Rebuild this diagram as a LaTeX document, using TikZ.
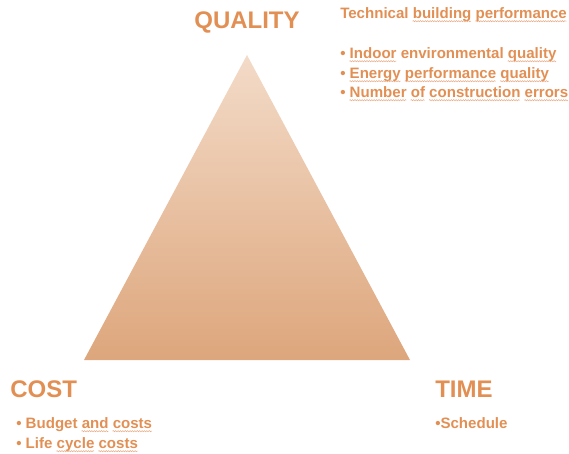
\documentclass[tikz,border=0pt]{standalone}
\usepackage{fontspec}
\setmainfont{Liberation Sans}
\usetikzlibrary{decorations.pathmorphing}
\definecolor{labelorange}{RGB}{226,143,84}
\definecolor{pyramidtop}{RGB}{243,219,200}
\definecolor{pyramidbottom}{RGB}{221,166,124}
\definecolor{squigorange}{RGB}{234,172,134}
% spell-check style wavy underline
\newsavebox{\squigbox}
\newcommand{\squig}[1]{\sbox{\squigbox}{#1}\usebox{\squigbox}\llap{\tikz[baseline=0pt]\draw[squigline] (0pt,-2.4pt) -- (\wd\squigbox,-2.4pt);}}
\tikzset{
  header/.style={text=labelorange, font=\bfseries\fontsize{18}{20}\selectfont, inner sep=0pt, anchor=base},
  item/.style={text=labelorange, font=\bfseries\fontsize{11.3}{13}\selectfont, inner sep=0pt, anchor=base west},
  squigline/.style={squigorange, line width=0.4pt, decorate, decoration={snake, amplitude=0.45pt, segment length=1.8pt}}
}

\begin{document}
\begin{tikzpicture}[x=0.75pt,y=-0.75pt]
\useasboundingbox (0,0) rectangle (569,454);

% 1. TRIANGLE
\shade[top color=pyramidtop, bottom color=pyramidbottom] (247,55) -- (410,360) -- (84,360) -- cycle;

% 2. CORNER LABELS
\node[header] (quality) at (247,28) {QUALITY};
\node[header, anchor=base west] (cost) at (10,397) {COST};
\node[header, anchor=base west] (time) at (435,397) {TIME};

% 3. QUALITY ITEMS
\node[item] (techperf) at (340,18) {Technical \squig{building} \squig{performance}};
\node[item] (indoor) at (340,58) {\textbullet\ \squig{Indoor} environmental \squig{quality}};
\node[item] (energy) at (340,78) {\textbullet\ \squig{Energy} \squig{performance} \squig{quality}};
\node[item] (errors) at (340,97) {\textbullet\ \squig{Number} \squig{of} \squig{construction} \squig{errors}};

% 4. COST ITEMS
\node[item] (budget) at (16,428) {\textbullet\ Budget \squig{and} \squig{costs}};
\node[item] (lifecycle) at (16,448) {\textbullet\ Life \squig{cycle} \squig{costs}};

% 5. TIME ITEMS
\node[item] (schedule) at (435,428) {\textbullet Schedule};

\end{tikzpicture}
\end{document}
